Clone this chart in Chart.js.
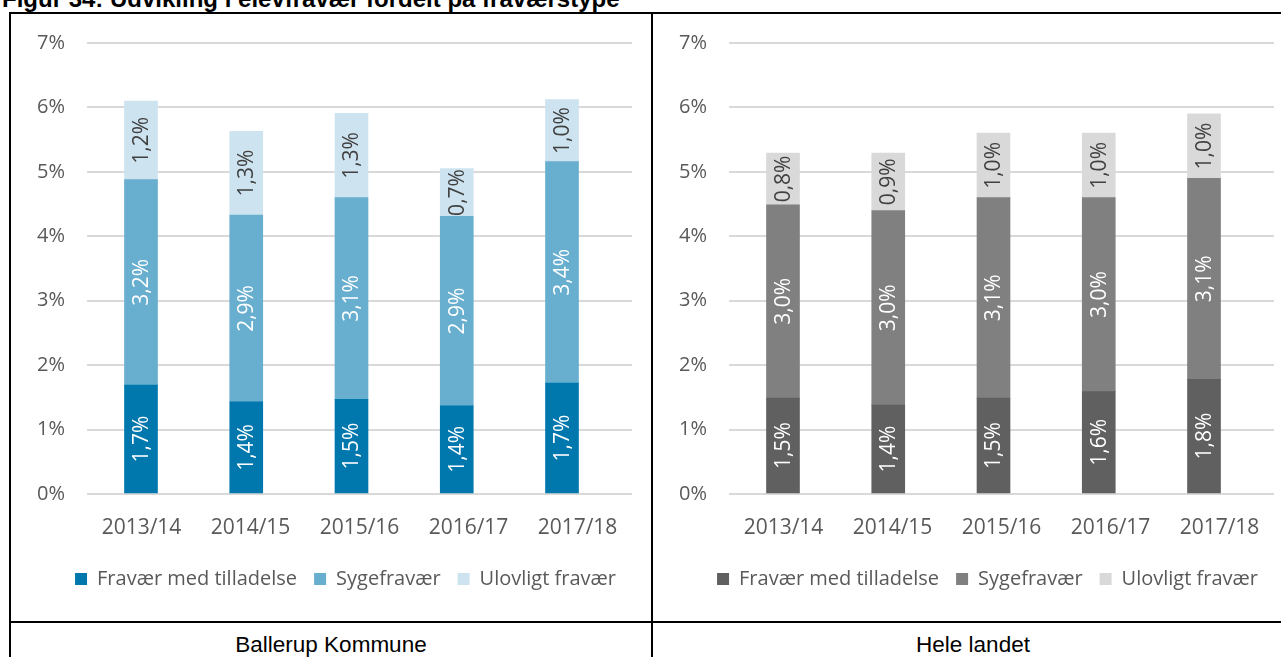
<!DOCTYPE html>
<html>
<head>
<meta charset="utf-8">
<title>Udvikling i elevfravær</title>
<script src="https://cdn.jsdelivr.net/npm/chart.js@4.4.0/dist/chart.umd.min.js"></script>
<style>
  html, body { margin: 0; padding: 0; width: 1281px; height: 657px; overflow: hidden; background: #fff; }
  .rule { position: absolute; background: #000; }
  .txt { position: absolute; font-family: "Liberation Sans", Arial, sans-serif; color: #000; white-space: nowrap; line-height: 1; }
  canvas { position: absolute; }
</style>
</head>
<body>
<div class="txt" style="left:2px; top:-13px; font-size:24px; font-weight:bold;">Figur 34: Udvikling i elevfravær fordelt på fraværstype</div>

<div class="rule" style="left:9px; top:12px; width:1300px; height:2px;"></div>
<div class="rule" style="left:9px; top:12px; width:2px; height:660px;"></div>
<div class="rule" style="left:651px; top:12px; width:2px; height:660px;"></div>
<div class="rule" style="left:9px; top:621px; width:1300px; height:2px;"></div>

<canvas id="ballerup" width="640" height="607" style="left:11px; top:14px;"></canvas>
<canvas id="landet" width="640" height="607" style="left:653px; top:14px;"></canvas>

<div class="txt" style="left:11px; width:640px; text-align:center; top:634px; font-size:22.5px;">Ballerup Kommune</div>
<div class="txt" style="left:653px; width:640px; text-align:center; top:634px; font-size:22.5px;">Hele landet</div>

<script>
const seasons = ['2013/14', '2014/15', '2015/16', '2016/17', '2017/18'];
const seriesNames = ['Fravær med tilladelse', 'Sygefravær', 'Ulovligt fravær'];

// Ballerup Kommune, procent
const ballerupTilladelse = [1.69, 1.43, 1.47, 1.37, 1.72];
const ballerupSyge = [3.19, 2.90, 3.13, 2.94, 3.44];
const ballerupUlovligt = [1.22, 1.30, 1.31, 0.74, 0.96];

// Hele landet, procent
const landetTilladelse = [1.49, 1.38, 1.49, 1.59, 1.78];
const landetSyge = [3.00, 3.02, 3.11, 3.01, 3.12];
const landetUlovligt = [0.80, 0.89, 1.00, 1.00, 1.00];

const yMax = 7;
const yStep = 1;

const blues = ['#0078ad', '#67aecf', '#cde3ef'];
const greys = ['#606060', '#808080', '#d9d9d9'];
const labelColors = ['#ffffff', '#ffffff', '#404040'];

const FONT = '"Open Sans", "DejaVu Sans", sans-serif';

function pct(v) {
  return v.toFixed(1).replace('.', ',') + '%';
}

// rotated value labels in the middle of each stacked segment
const barLabels = {
  id: 'barLabels',
  afterDatasetsDraw(chart) {
    const ctx = chart.ctx;
    ctx.save();
    ctx.font = '21px ' + FONT;
    ctx.textAlign = 'center';
    ctx.textBaseline = 'middle';
    chart.data.datasets.forEach((ds, i) => {
      chart.getDatasetMeta(i).data.forEach((bar, j) => {
        const p = bar.getProps(['x', 'y', 'base'], true);
        ctx.save();
        ctx.translate(p.x + 1, (p.y + p.base) / 2);
        ctx.rotate(-Math.PI / 2);
        ctx.fillStyle = labelColors[i];
        ctx.fillText(pct(ds.data[j].y), 0, 0);
        ctx.restore();
      });
    });
    ctx.restore();
  }
};

// centre the legend under the plot instead of the whole canvas
const legendShift = {
  id: 'legendShift',
  afterLayout(chart) {
    chart.legend.left += 12;
    chart.legend.right += 12;
  }
};

function stackedChart(id, series, colors) {
  return new Chart(document.getElementById(id), {
    type: 'bar',
    data: {
      labels: seasons,
      datasets: series.map((values, i) => ({
        label: seriesNames[i],
        data: values.map((v, k) => ({ x: k, y: v })),
        xAxisID: 'bars',
        backgroundColor: colors[i],
        borderWidth: 0,
        barThickness: 33
      }))
    },
    options: {
      responsive: false,
      animation: false,
      devicePixelRatio: 1,
      layout: { padding: { left: 24, right: 19, top: 29, bottom: 22 } },
      plugins: {
        tooltip: { enabled: false },
        legend: {
          position: 'bottom',
          labels: {
            boxWidth: 12,
            boxHeight: 12,
            padding: 17,
            color: '#595959',
            font: { family: FONT, size: 20 }
          }
        }
      },
      scales: {
        x: {
          type: 'category',
          grid: { display: false, drawTicks: false },
          border: { display: false },
          ticks: { color: '#595959', padding: 21, font: { family: FONT, size: 21 } },
          afterFit(scale) { scale.height = 58; }
        },
        // the columns sit a little tighter than the season labels
        bars: {
          type: 'linear',
          position: 'bottom',
          display: false,
          offset: false,
          stacked: true,
          min: -0.513,
          max: 4.665
        },
        y: {
          stacked: true,
          min: 0,
          max: yMax,
          grid: { color: '#d9d9d9', lineWidth: 2, drawTicks: true, tickLength: 5, tickColor: 'rgba(0,0,0,0)' },
          border: { display: false },
          ticks: {
            stepSize: yStep,
            padding: 17,
            color: '#595959',
            font: { family: FONT, size: 20 },
            callback: v => v + '%'
          },
          afterFit(scale) { scale.width = 52; }
        }
      }
    },
    plugins: [barLabels, legendShift]
  });
}

stackedChart('ballerup', [ballerupTilladelse, ballerupSyge, ballerupUlovligt], blues);
stackedChart('landet', [landetTilladelse, landetSyge, landetUlovligt], greys);
</script>
</body>
</html>
